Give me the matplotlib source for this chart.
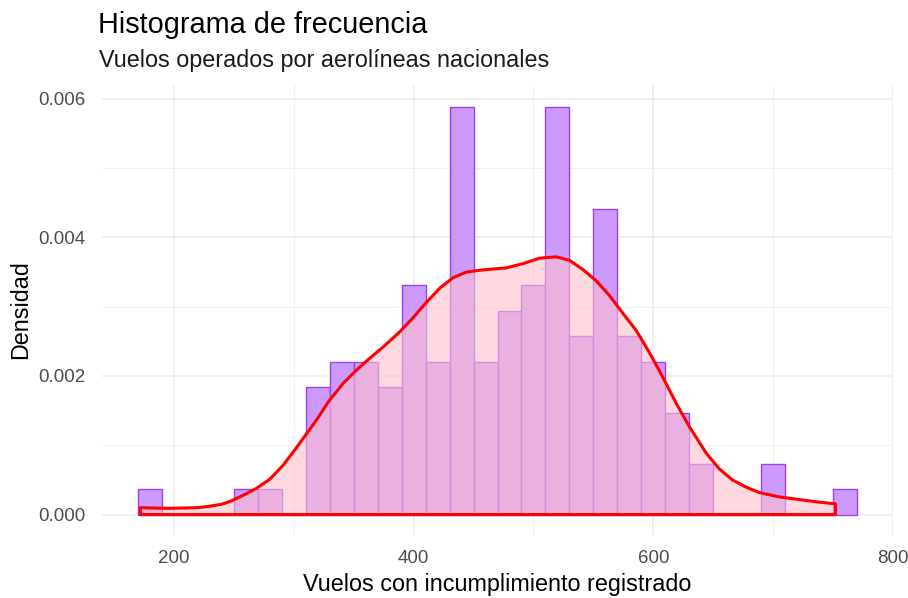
import matplotlib
matplotlib.use("Agg")
import matplotlib.pyplot as plt
import numpy as np

# ---- data ----
bin_left_edges = [170, 190, 210, 230, 250, 270, 290, 310, 330, 350,
                  370, 390, 410, 430, 450, 470, 490, 510, 530, 550,
                  570, 590, 610, 630, 650, 670, 690, 710, 730, 750]
bin_width = 20
bin_counts = [1, 0, 0, 0, 1, 1, 0, 5, 6, 6,
              5, 9, 6, 16, 6, 8, 9, 16, 7, 12,
              7, 6, 4, 2, 0, 0, 2, 0, 0, 1]

density_x = [172, 180, 195, 210, 220, 230, 240, 247, 258, 269, 280,
             291, 302, 310, 320, 329, 341, 352, 363, 374, 388,
             399, 410, 422, 433, 444, 457, 477, 491, 505, 519,
             530, 541, 552, 563, 574, 586, 597, 608, 619, 630,
             644, 655, 666, 677, 688, 705, 722, 738, 752]
density_y = [0.00010, 0.000095, 0.00009, 0.000095, 0.00010, 0.00012, 0.00015, 0.00019, 0.00028, 0.00038, 0.00051,
             0.00071, 0.00096, 0.00115, 0.00139, 0.00163, 0.00189, 0.00208, 0.00225, 0.00241, 0.00263,
             0.00283, 0.00305, 0.00327, 0.00342, 0.00350, 0.00353, 0.00356, 0.00362, 0.00370, 0.00372,
             0.00367, 0.00354, 0.00338, 0.00317, 0.00292, 0.00265, 0.00233, 0.00198, 0.00161, 0.00127,
             0.00089, 0.00066, 0.00050, 0.00040, 0.00032, 0.000255, 0.000216, 0.000180, 0.000155]

x_ticks = [200, 400, 600, 800]
x_minor = [300, 500, 700]
y_ticks = [0.000, 0.002, 0.004, 0.006]
y_minor = [0.001, 0.003, 0.005]

title = "Histograma de frecuencia"
subtitle = "Vuelos operados por aerolíneas nacionales"
xlabel = "Vuelos con incumplimiento registrado"
ylabel = "Densidad"

# ---- figure ----
plt.rcParams['font.family'] = ['Liberation Sans', 'DejaVu Sans']
W, H = 908, 598
fig = plt.figure(figsize=(W / 100, H / 100), dpi=100)
ax = fig.add_axes([102 / W, 1 - 535 / H, (893 - 102) / W, (535 - 85) / H])

edges = list(bin_left_edges) + [bin_left_edges[-1] + bin_width]
centers = [e + bin_width / 2 for e in bin_left_edges]
ax.hist(centers, bins=edges, weights=bin_counts, density=True,
        facecolor='#CC99FF', edgecolor='#A040F5', linewidth=1.0, zorder=2)

poly_x = [density_x[0]] + density_x + [density_x[-1]]
poly_y = [0] + density_y + [0]
ax.fill(poly_x, poly_y, facecolor=(1.0, 0.753, 0.796, 0.6), edgecolor='#FF0000',
        linewidth=2.2, joinstyle='round', zorder=3)

ax.set_xlim(140, 800)
ax.set_ylim(-0.000295, 0.0062)
ax.set_xticks(x_ticks)
ax.set_xticks(x_minor, minor=True)
ax.set_yticks(y_ticks)
ax.set_yticks(y_minor, minor=True)
ax.set_xticklabels([str(v) for v in x_ticks])
ax.set_yticklabels([f"{v:.3f}" for v in y_ticks])

ax.grid(True, which='major', color='#EBEBEB', linewidth=1.1, zorder=0)
ax.grid(True, which='minor', color='#EBEBEB', linewidth=0.55, zorder=0)
ax.set_axisbelow(True)
for s in ax.spines.values():
    s.set_visible(False)
ax.tick_params(which='both', length=0)
ax.tick_params(axis='x', labelsize=13.5, labelcolor='#4D4D4D', pad=11)
ax.tick_params(axis='y', labelsize=13.5, labelcolor='#4D4D4D', pad=12)

fig.text(98 / W, 1 - 33.3 / H, title, fontsize=20.8, color='black',
         ha='left', va='baseline')
fig.text(99 / W, 1 - 66.7 / H, subtitle, fontsize=16.8, color='#1A1A1A',
         ha='left', va='baseline')
fig.text(497 / W, 1 - 591 / H, xlabel, fontsize=16.8, color='black',
         ha='center', va='baseline')
fig.text(21 / W, 1 - 310 / H, ylabel, fontsize=16.8, color='black',
         ha='center', va='center', rotation=90)

fig.savefig("out.png", dpi=100)
